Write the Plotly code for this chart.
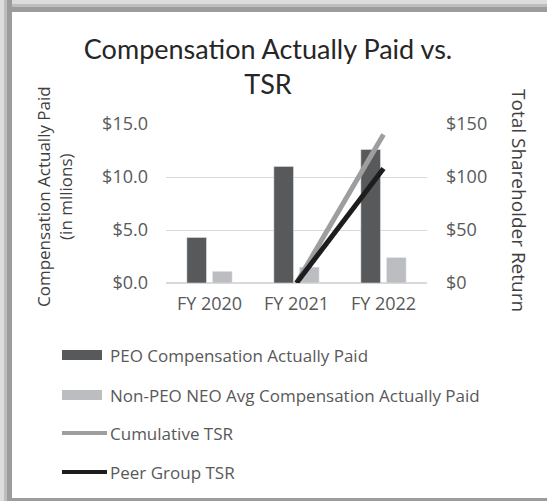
"""Compensation Actually Paid vs. TSR chart."""

import plotly.graph_objects as go

W, H = 547, 501
# plot area in pixels
L, R, T, B = 166, 427, 124, 283

years = ["FY 2020", "FY 2021", "FY 2022"]
peo_cap = [4.3, 11.0, 12.6]
neo_avg_cap = [1.1, 1.5, 2.4]
cumulative_tsr = [None, 0, 140]
peer_group_tsr = [None, 0, 108]

cap_ticks = [0, 5, 10, 15]
cap_tick_text = ["$0.0", "$5.0", "$10.0", "$15.0"]
tsr_ticks = [0, 50, 100, 150]
tsr_tick_text = ["$0", "$50", "$100", "$150"]

legend_labels = [
    "PEO Compensation Actually Paid",
    "Non-PEO NEO Avg Compensation Actually Paid",
    "Cumulative TSR",
    "Peer Group TSR",
]

dark_bar = "#58595b"
light_bar = "#bcbdc0"
gray_line = "#9e9e9e"
black_line = "#1d1d1d"
text_color = "#595959"
font_family = "Open Sans"


def px_x(x):
    return (x - L) / (R - L)


def px_y(y):
    return (B - y) / (B - T)


fig = go.Figure()
fig.add_trace(go.Bar(x=years, y=peo_cap, name=legend_labels[0], marker_color=dark_bar))
fig.add_trace(go.Bar(x=years, y=neo_avg_cap, name=legend_labels[1], marker_color=light_bar))
fig.add_trace(
    go.Scatter(
        x=years, y=cumulative_tsr, name=legend_labels[2], yaxis="y2",
        mode="lines", line={"color": gray_line, "width": 5},
    )
)
fig.add_trace(
    go.Scatter(
        x=years, y=peer_group_tsr, name=legend_labels[3], yaxis="y2",
        mode="lines", line={"color": black_line, "width": 5},
    )
)

fig.update_layout(
    width=W,
    height=H,
    margin={"l": L, "r": W - R, "t": T, "b": H - B},
    paper_bgcolor="white",
    plot_bgcolor="white",
    showlegend=False,
    barmode="group",
    bargap=0.41,
    bargroupgap=0.235,
    font={"family": font_family, "color": text_color, "size": 16},
    title={
        "text": "Compensation Actually Paid vs.<br>TSR",
        "x": 0.49,
        "xanchor": "center",
        "y": 1 - 59 / H,
        "yanchor": "middle",
        "font": {"family": "Lato", "size": 27, "color": "#262626"},
    },
)

fig.update_xaxes(
    showgrid=False,
    showline=False,
    tickfont={"size": 18},
    ticklabelstandoff=8,
)
fig.update_yaxes(
    range=[0, 15],
    tickvals=cap_ticks,
    ticktext=cap_tick_text,
    gridcolor="#d9d9d9",
    gridwidth=1,
    zeroline=True,
    zerolinecolor="#d9d9d9",
    showline=False,
    tickfont={"size": 18},
    ticklabelstandoff=17,
)
fig.update_layout(
    yaxis2={
        "overlaying": "y",
        "side": "right",
        "range": [0, 150],
        "tickvals": tsr_ticks,
        "ticktext": tsr_tick_text,
        "showgrid": False,
        "zeroline": False,
        "tickfont": {"size": 18},
        "ticklabelstandoff": 18,
    }
)

# axis titles
fig.add_annotation(
    text="Compensation Actually Paid<br>(in mllions)",
    xref="paper", yref="paper", x=px_x(54), y=px_y(197),
    xanchor="center", yanchor="middle", textangle=-90, showarrow=False,
    font={"size": 17, "color": "#404040"},
)
fig.add_annotation(
    text="Total Shareholder Return",
    xref="paper", yref="paper", x=px_x(519), y=px_y(200),
    xanchor="center", yanchor="middle", textangle=90, showarrow=False,
    font={"size": 19, "color": "#404040"},
)

# legend drawn by hand so the swatches look like the original
legend_y = [355, 395, 433, 472]
shapes = []
for i, (label, y) in enumerate(zip(legend_labels, legend_y)):
    if i < 2:
        shapes.append({
            "type": "rect", "xref": "paper", "yref": "paper",
            "x0": px_x(62), "x1": px_x(102), "y0": px_y(y - 5), "y1": px_y(y + 5),
            "fillcolor": dark_bar if i == 0 else light_bar, "line": {"width": 0},
        })
    else:
        shapes.append({
            "type": "line", "xref": "paper", "yref": "paper",
            "x0": px_x(62), "x1": px_x(107), "y0": px_y(y), "y1": px_y(y),
            "line": {"color": gray_line if i == 2 else black_line, "width": 4},
        })
    fig.add_annotation(
        text=label, xref="paper", yref="paper", x=px_x(108), y=px_y(y),
        xanchor="left", yanchor="middle", showarrow=False,
        font={"size": 17, "color": text_color},
    )

# frame with a soft shadow on the top and left edges
for x0, x1, color in [(0, 4, "#dcdcdc"), (4, 7, "#bdbdbd"), (7, 12, "#9c9c9c")]:
    shapes.append({
        "type": "rect", "xref": "paper", "yref": "paper",
        "x0": px_x(x0), "x1": px_x(x1), "y0": px_y(H), "y1": px_y(0),
        "fillcolor": color, "line": {"width": 0},
    })
    shapes.append({
        "type": "rect", "xref": "paper", "yref": "paper",
        "x0": px_x(x0), "x1": px_x(W), "y0": px_y(x1), "y1": px_y(x0),
        "fillcolor": color, "line": {"width": 0},
    })
shapes.append({
    "type": "rect", "xref": "paper", "yref": "paper",
    "x0": px_x(7), "x1": px_x(W), "y0": px_y(H), "y1": px_y(498),
    "fillcolor": "#9c9c9c", "line": {"width": 0},
})
fig.update_layout(shapes=shapes)

# drop the default page margin so the figure sits at the window's corner
fig.write_html(
    "out.html",
    config={"displayModeBar": False},
    post_script="document.body.style.margin = '0';",
)
